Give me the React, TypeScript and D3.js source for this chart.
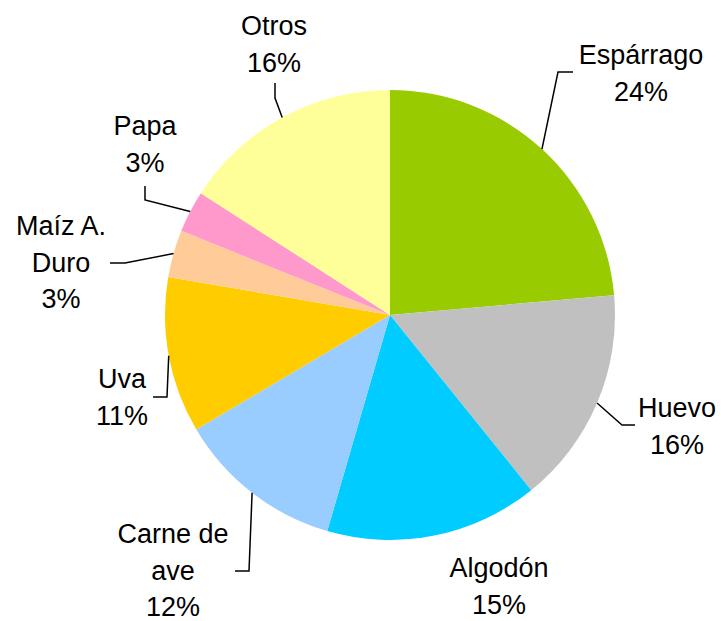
import * as d3 from "d3";

const categories = ["Espárrago", "Huevo", "Algodón", "Carne de ave", "Uva", "Maíz A. Duro", "Papa", "Otros"];
const values = [23.6, 15.6, 15.3, 12.0, 11.2, 3.4, 3.0, 15.9];
const percentLabels = ["24%", "16%", "15%", "12%", "11%", "3%", "3%", "16%"];
const colors = ["#99CC00", "#C0C0C0", "#00CCFF", "#99CCFF", "#FFCC00", "#FFCC99", "#FF99CC", "#FFFF99"];

// label text lines (wrapped as in the original)
const labelLines = [
  ["Espárrago"],
  ["Huevo"],
  ["Algodón"],
  ["Carne de", "ave"],
  ["Uva"],
  ["Maíz A.", "Duro"],
  ["Papa"],
  ["Otros"],
];

// layout: label center x, first baseline y, leader elbow and end (null = no leader)
const labelLayout: { x: number; y: number; leader: [number, number][] | null }[] = [
  { x: 641, y: 64, leader: [[558, 72], [573, 72]] },
  { x: 677, y: 417, leader: [[622, 425], [635, 425]] },
  { x: 499, y: 577, leader: null },
  { x: 173, y: 543, leader: [[249, 571], [235, 571]] },
  { x: 122, y: 388, leader: [[167, 397], [153, 397]] },
  { x: 61, y: 235, leader: [[125, 263], [110, 263]] },
  { x: 145, y: 135, leader: [[145, 200], [145, 186]] },
  { x: 274, y: 35, leader: [[275, 98], [275, 83]] },
];

const width = 721;
const height = 621;
const cx = 390;
const cy = 315;
const radius = 225;
const lineGap = 36.5;

const App = () => {
  const pie = d3.pie<number>().sort(null).value(d => d);
  const arcs = pie(values);
  const arc = d3.arc<d3.PieArcDatum<number>>().innerRadius(0).outerRadius(radius);
  const edge = d3.arc<d3.PieArcDatum<number>>().innerRadius(radius).outerRadius(radius);
  const line = d3.line();

  return (
    <svg width={width} height={height} style={{ position: "absolute", left: 0, top: 0, background: "#fff" }}
         fontFamily="'Liberation Sans', Arial, sans-serif" fontSize={27}>
      <g transform={`translate(${cx},${cy})`}>
        {arcs.map((a, i) => (
          <path key={categories[i]} d={arc(a) ?? ""} fill={colors[i]} />
        ))}
      </g>
      {arcs.map((a, i) => {
        const lay = labelLayout[i];
        const c = edge.centroid(a);
        const anchor: [number, number] = [cx + c[0], cy + c[1]];
        const lines = [...labelLines[i], percentLabels[i]];
        return (
          <g key={categories[i]}>
            {lay.leader && (
              <path d={line([anchor, ...lay.leader]) ?? ""} fill="none" stroke="#000" strokeWidth={1.5} />
            )}
            <text textAnchor="middle" fill="#000">
              {lines.map((t, j) => (
                <tspan key={j} x={lay.x} y={lay.y + j * lineGap}>{t}</tspan>
              ))}
            </text>
          </g>
        );
      })}
    </svg>
  );
};

export default App;
